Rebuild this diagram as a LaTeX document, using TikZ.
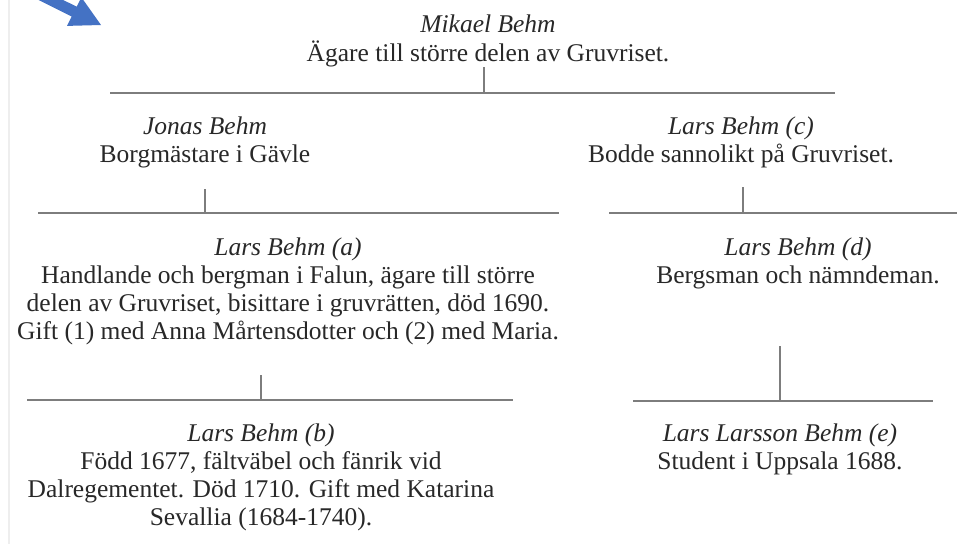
\documentclass[tikz,border=0pt]{standalone}
\usepackage{fontspec}
\setmainfont{Liberation Serif}
\definecolor{txt}{RGB}{40,40,40}
\definecolor{barc}{RGB}{125,125,125}
\definecolor{arrowblue}{RGB}{68,114,196}
\definecolor{edgec}{RGB}{238,238,238}
\newcommand\blk[1]{\begin{tabular}[t]{@{}c@{}}#1\end{tabular}}
\tikzset{
  person/.style={inner sep=0pt, anchor=base, text=txt, font=\fontsize{25.5}{28}\selectfont},
  bar/.style={draw=barc, line width=1.8pt},
  stub/.style={draw=barc, line width=1.5pt}
}
\begin{document}
\begin{tikzpicture}[x=1pt,y=-1pt]
\useasboundingbox (0,0) rectangle (964,544);
\fill[white] (0,0) rectangle (964,544);
\draw[edgec, line width=1.5pt] (9,0) -- (9,544);
% blue arrow
\fill[arrowblue] (18,-10.3) -- (71.7,16.5) -- (67,25.9) -- (101,25) -- (81.4,-2.7) -- (76.7,6.7) -- (23,-20) -- cycle;

% people
\node[person] (m) at (488,32) {\blk{\textit{Mikael Behm}\\ Ägare till större delen av Gruvriset.}};
\node[person] (j) at (205,134) {\blk{\textit{Jonas Behm}\\ Borgmästare i Gävle}};
\node[person] (c) at (741,134) {\blk{\textit{Lars Behm (c)}\\ Bodde sannolikt på Gruvriset.}};
\node[person] (a) at (288,255) {\blk{\textit{Lars Behm (a)}\\ Handlande och bergman i Falun, ägare till större\\ delen av Gruvriset, bisittare i gruvrätten, död 1690.\\ Gift (1) med Anna Mårtensdotter och (2) med Maria.}};
\node[person] (d) at (798,255) {\blk{\textit{Lars Behm (d)}\\ Bergsman och nämndeman.}};
\node[person] (b) at (261,441) {\blk{\textit{Lars Behm (b)}\\ Född 1677, fältväbel och fänrik vid\\ Dalregementet. Död 1710. Gift med Katarina\\ Sevallia (1684-1740).}};
\node[person] (e) at (780,441) {\blk{\textit{Lars Larsson Behm (e)}\\ Student i Uppsala 1688.}};

% bars
\coordinate (m1) at (110,93);  \coordinate (m2) at (835,93);
\coordinate (mt) at (484,67);  \coordinate (mb) at (484,93);
\coordinate (j1) at (38,213);  \coordinate (j2) at (559,213);
\coordinate (jt) at (205,189); \coordinate (jb) at (205,213);
\coordinate (c1) at (609,213); \coordinate (c2) at (957,213);
\coordinate (ct) at (743,187); \coordinate (cb) at (743,213);
\coordinate (a1) at (27,400);  \coordinate (a2) at (513,400);
\coordinate (at) at (261,375); \coordinate (ab) at (261,400);
\coordinate (d1) at (633,401); \coordinate (d2) at (933,401);
\coordinate (dt) at (780,346); \coordinate (db) at (780,401);

\draw[bar] (m1) -- (m2);
\draw[stub] (mt) -- (mb);
\draw[bar] (j1) -- (j2);
\draw[stub] (jt) -- (jb);
\draw[bar] (c1) -- (c2);
\draw[stub] (ct) -- (cb);
\draw[bar] (a1) -- (a2);
\draw[stub] (at) -- (ab);
\draw[bar] (d1) -- (d2);
\draw[stub] (dt) -- (db);
\end{tikzpicture}
\end{document}
